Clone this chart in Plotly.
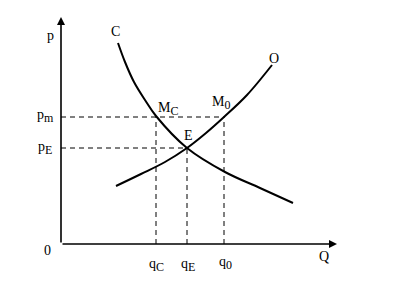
import plotly.graph_objects as go

# Curve C (falling) and O (rising)
c_q = [57, 64, 73, 84, 95, 126, 164, 199, 232]
c_p = [201, 182, 162, 144, 128, 96, 72, 56, 41]
o_q = [55, 80, 104, 126, 145, 163, 186, 211]
o_p = [58, 70, 82, 96, 111, 127, 149, 179]

# key levels
q_C, q_E, q_0 = 95, 126, 163
p_m, p_E = 127, 96
q_axis_end, p_axis_end = 276, 227

FONT = "Liberation Serif"
fig = go.Figure()

fig.add_trace(go.Scatter(x=c_q, y=c_p, mode="lines", line=dict(color="black", width=2, shape="spline"),
                         hoverinfo="skip"))
fig.add_trace(go.Scatter(x=o_q, y=o_p, mode="lines", line=dict(color="black", width=2, shape="spline"),
                         hoverinfo="skip"))

dash = dict(color="black", width=1, dash="5px,4px")
fig.add_trace(go.Scatter(x=[0, q_0], y=[p_m, p_m], mode="lines", line=dash, hoverinfo="skip"))
fig.add_trace(go.Scatter(x=[0, q_E], y=[p_E, p_E], mode="lines", line=dash, hoverinfo="skip"))
for q, p in [(q_C, p_m), (q_E, p_E), (q_0, p_m)]:
    fig.add_trace(go.Scatter(x=[q, q], y=[0, p], mode="lines", line=dash, hoverinfo="skip"))

# axes with arrows
fig.add_annotation(x=0, y=p_axis_end, ax=0, ay=0, xref="x", yref="y", axref="x", ayref="y",
                   showarrow=True, arrowhead=2, arrowsize=1, arrowwidth=1.6, arrowcolor="black", text="")
fig.add_annotation(x=q_axis_end, y=0, ax=0, ay=0, xref="x", yref="y", axref="x", ayref="y",
                   showarrow=True, arrowhead=2, arrowsize=1, arrowwidth=1.6, arrowcolor="black", text="")


def sub(base, s):
    return f"{base}<sub><span style='font-size:12px'>{s}</span></sub>"


labels = [
    ("p", -11, 209), ("C", 54, 213), ("O", 213, 186),
    (sub("p", "m"), -16, 128), (sub("p", "E"), -16, 96), ("0", -14, -6),
    (sub("q", "C"), q_C, -21), (sub("q", "E"), q_E + 1, -21), (sub("q", "0"), q_0 + 1, -19),
    ("Q", 263, -12),
    (sub("M", "C"), 107, 135), (sub("M", "0"), 160, 141), ("E", 127, 109),
]
for t, x, y in labels:
    fig.add_annotation(x=x, y=y, text=t, showarrow=False, xref="x", yref="y",
                       font=dict(family=FONT, size=14, color="black"))

fig.update_layout(
    width=404, height=281, margin=dict(l=0, r=0, t=0, b=0),
    paper_bgcolor="white", plot_bgcolor="white", showlegend=False,
    xaxis=dict(range=[-61, 343], visible=False, fixedrange=True),
    yaxis=dict(range=[-37, 244], visible=False, fixedrange=True),
)
fig.write_html("out.html")
